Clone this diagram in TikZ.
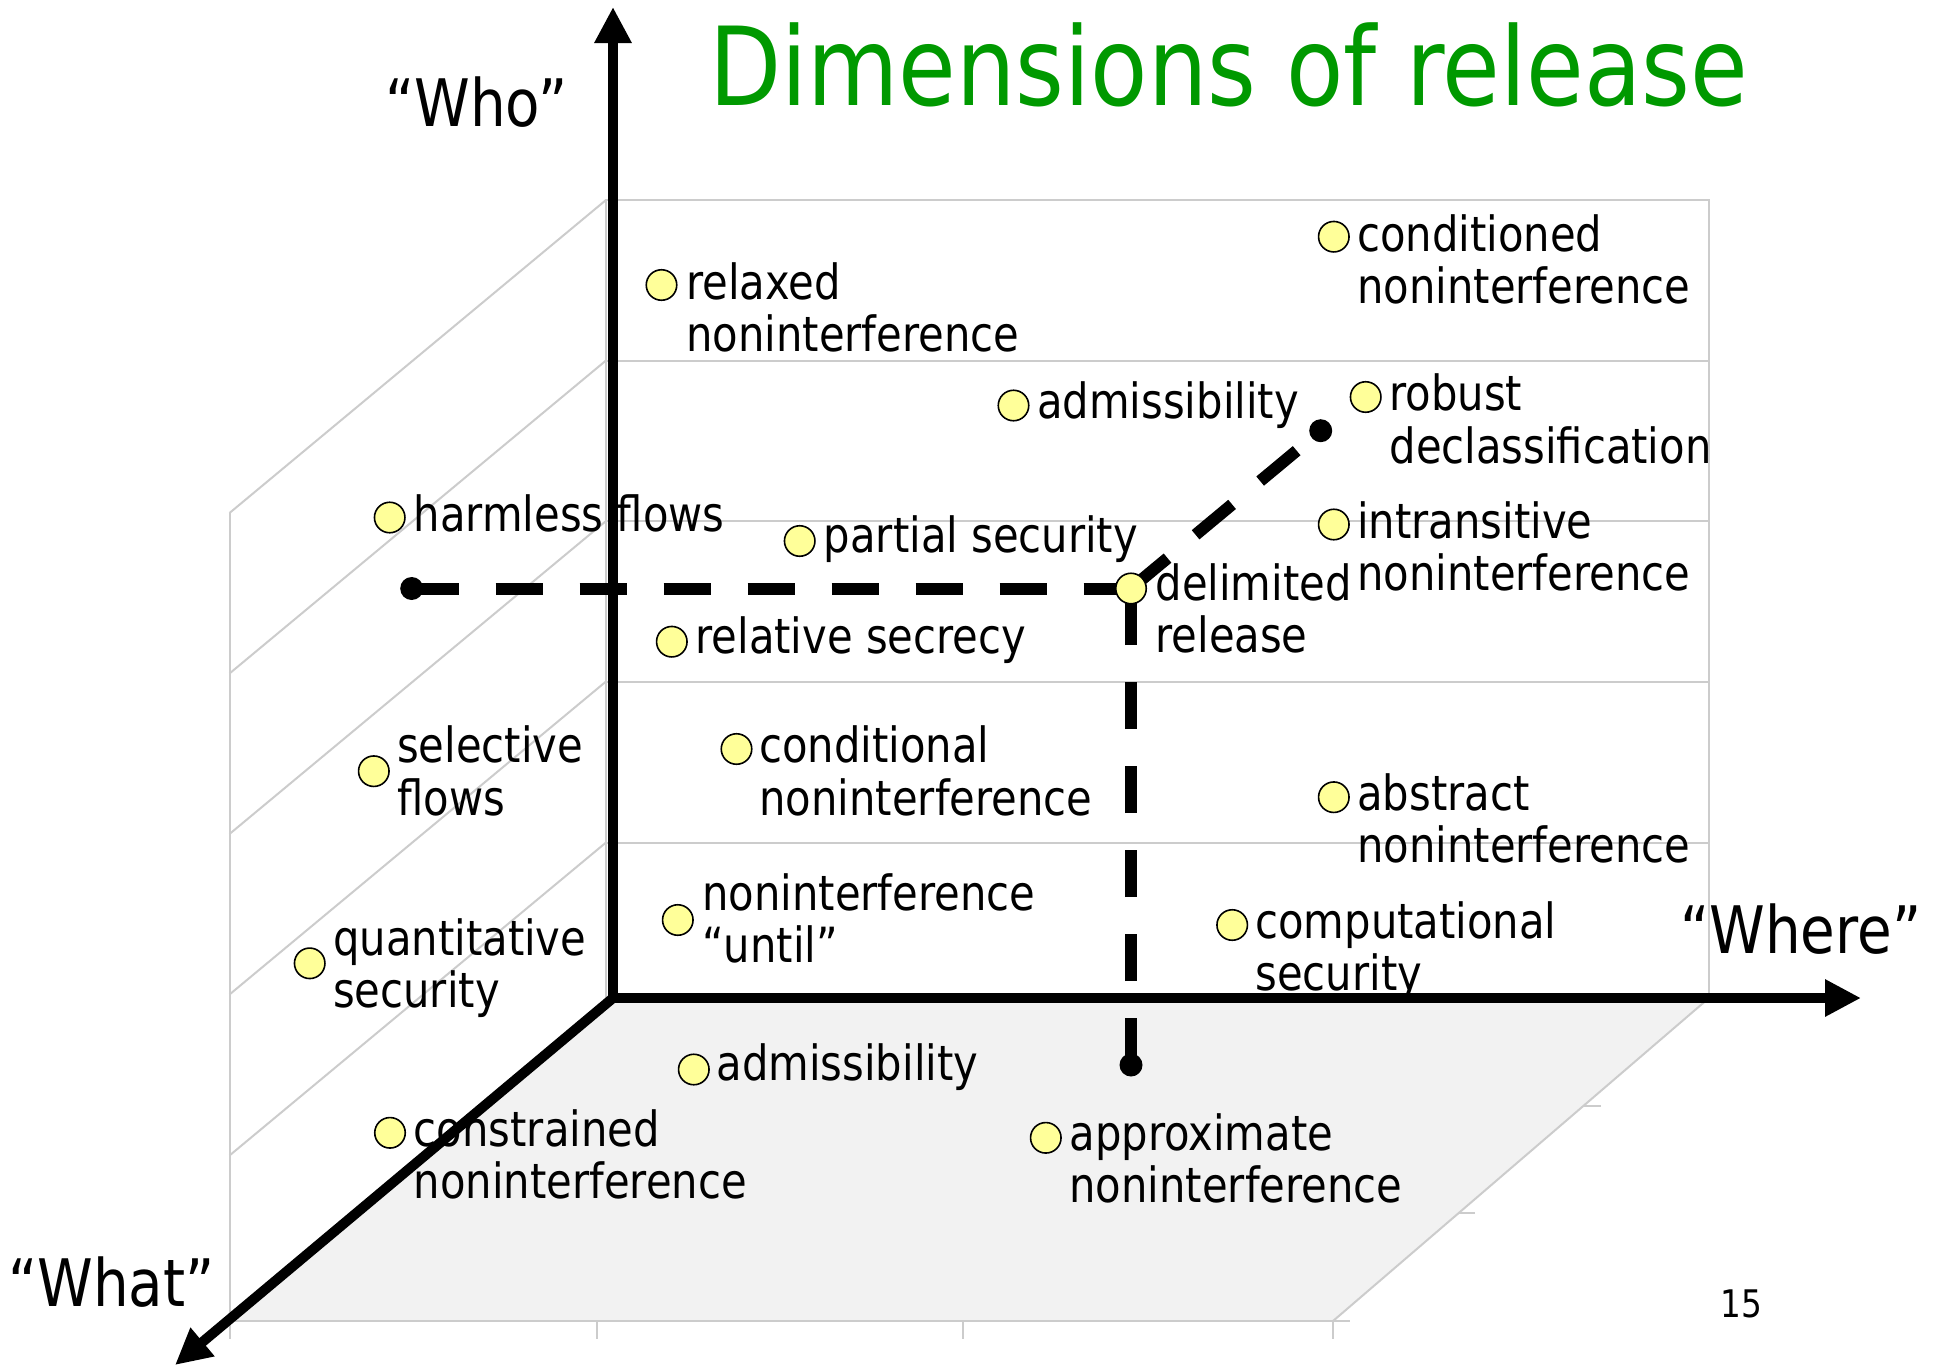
\documentclass[tikz,border=0pt]{standalone}
\usepackage{fontspec}
\setmainfont{DejaVu Sans}[FakeStretch=0.86]
\usetikzlibrary{arrows.meta}

\definecolor{titlegreen}{RGB}{0,153,0}
\definecolor{wallgray}{RGB}{204,204,204}
\definecolor{floorgray}{RGB}{242,242,242}
\definecolor{dotyellow}{RGB}{255,255,153}

\newcommand\lblfont{\fontsize{48.5}{51.7}\selectfont}
\newcommand\axfont{\fontsize{65.5}{70}\selectfont}
\newcommand\ttlfont{\fontsize{109}{120}\selectfont}
\newcommand\twolines[1]{\begin{tabular}[t]{@{}l@{}}#1\end{tabular}}

\pgfdeclarelayer{bg}
\pgfsetlayers{bg,main}

\begin{document}
\begin{tikzpicture}[x=1pt,y=-1pt,
  grid/.style={draw=wallgray, line width=2pt},
  axis/.style={line width=10pt, -{Triangle[length=36pt,width=35pt]}},
  guide/.style={line width=12pt, dash pattern=on 47.5pt off 36.5pt},
  enddot/.style={circle, fill=black, inner sep=0pt, minimum size=23pt},
  pt/.style={circle, draw=black, line width=1.6pt, fill=dotyellow, inner sep=0pt, minimum size=30.5pt},
  lbl/.style={anchor=base west, inner sep=0pt, font=\lblfont},
  axlbl/.style={anchor=base west, inner sep=0pt, font=\axfont},
]
\useasboundingbox (0,0) rectangle (1938,1365);

% corner points of the box
\coordinate (O) at (613,998);
\coordinate (whoTip) at (613,7);
\coordinate (whereTip) at (1861,998);
\coordinate (whatTip) at (175,1365);
\coordinate (wallTL) at (606,200);
\coordinate (wallBR) at (1709,998);
\coordinate (floorFR) at (1333,1321);
\coordinate (floorFL) at (229.5,1321);

% title, axis names, page number
\node[anchor=base west, inner sep=0pt, font=\ttlfont, text=titlegreen] (title) at (709,105) {Dimensions of release};
\node[axlbl] (who) at (385,126) {“Who”};
\node[axlbl] (where) at (1680,953) {“Where”};
\node[axlbl] (what) at (8,1306.5) {“What”};
\node[anchor=base west, inner sep=0pt, font=\fontsize{38}{42}\selectfont] (pagenum) at (1720,1317) {15};

% end points of the guide lines
\node[enddot] (endL) at (411.7,588.5) {};
\node[enddot] (endB) at (1131,1065) {};
\node[enddot] (endR) at (1320.7,430.7) {};

% properties
\node[pt] (p1) at (661.5,285) {};
\node[lbl] (t1) at (686,299) {\twolines{relaxed\\noninterference}};
\node[pt] (p2) at (1333.8,236.7) {};
\node[lbl] (t2) at (1357,251) {\twolines{conditioned\\noninterference}};
\node[pt] (p3) at (1013.5,405.5) {};
\node[lbl] (t3) at (1037,418.3) {admissibility};
\node[pt] (p4) at (1365.7,397) {};
\node[lbl] (t4) at (1389.3,410.7) {\twolines{robust\\declassification}};
\node[pt] (p5) at (389.7,517.5) {};
\node[lbl] (t5) at (413.7,531) {harmless flows};
\node[pt] (p6) at (799.7,541) {};
\node[lbl] (t6) at (823.7,552.7) {partial security};
\node[pt] (p7) at (1333.8,524.5) {};
\node[lbl] (t7) at (1357,538.3) {\twolines{intransitive\\noninterference}};
\node[pt] (dr) at (1131,588.5) {};
\node[lbl] (t8) at (1155.3,600) {\twolines{delimited\\release}};
\node[pt] (p9) at (671.8,641.7) {};
\node[lbl] (t9) at (695.3,653.3) {relative secrecy};
\node[pt] (p10) at (373.8,771.2) {};
\node[lbl] (t10) at (397,762.7) {\twolines{selective\\flows}};
\node[pt] (p11) at (736.5,749) {};
\node[lbl] (t11) at (759.3,762.7) {\twolines{conditional\\noninterference}};
\node[pt] (p12) at (1333.8,797.2) {};
\node[lbl] (t12) at (1357,810) {\twolines{abstract\\noninterference}};
\node[pt] (p13) at (677.8,920) {};
\node[lbl] (t13) at (702,910) {\twolines{noninterference\\“until”}};
\node[pt] (p14) at (1232.2,925) {};
\node[lbl] (t14) at (1255.3,938.3) {\twolines{computational\\security}};
\node[pt] (p15) at (309.7,963.3) {};
\node[lbl] (t15) at (333,955) {\twolines{quantitative\\security}};
\node[pt] (p16) at (693.8,1069.5) {};
\node[lbl] (t16) at (716.4,1080) {admissibility};
\node[pt] (p17) at (390,1132.8) {};
\node[lbl] (t17) at (413.7,1146) {\twolines{constrained\\noninterference}};
\node[pt] (p18) at (1045.8,1137.8) {};
\node[lbl] (t18) at (1069.3,1150) {\twolines{approximate\\noninterference}};

\begin{pgfonlayer}{bg}
  % floor
  \fill[floorgray] (O) -- (wallBR) -- (floorFR) -- (floorFL) -- cycle;
  % back wall with its rows
  \draw[grid] (wallTL) rectangle (wallBR);
  \foreach \y in {360.5,521,681.5,842.5}
    \draw[grid] (606,\y) -- (1709,\y);
  % side wall: edge and slanted rows
  \draw[grid] (229.5,513) -- (229.5,1339);
  \foreach \y in {200,360.5,521,681.5,842.5}
    \draw[grid] (606,\y) -- (229.5,\y+313);
  % floor edges and ticks
  \draw[grid] (floorFL) -- (1350,1321);
  \draw[grid] (wallBR) -- (floorFR);
  \foreach \x in {597,963,1333}
    \draw[grid] (\x,1321) -- (\x,1339);
  \draw[grid] (1583.7,1105.7) -- (1601,1105.7);
  \draw[grid] (1458.3,1213.3) -- (1475,1213.3);
  % axes
  \draw[axis] (O) -- (whatTip);
  \draw[axis] (613,1003) -- (whoTip);
  \draw[axis] (608,998) -- (whereTip);
  % guide lines through delimited release
  \draw[guide] (endL.center) -- (dr.center);
  \draw[guide] (endB.center) -- (dr.center);
  \draw[guide] (dr.center) -- (endR.center);
\end{pgfonlayer}
\end{tikzpicture}
\end{document}
